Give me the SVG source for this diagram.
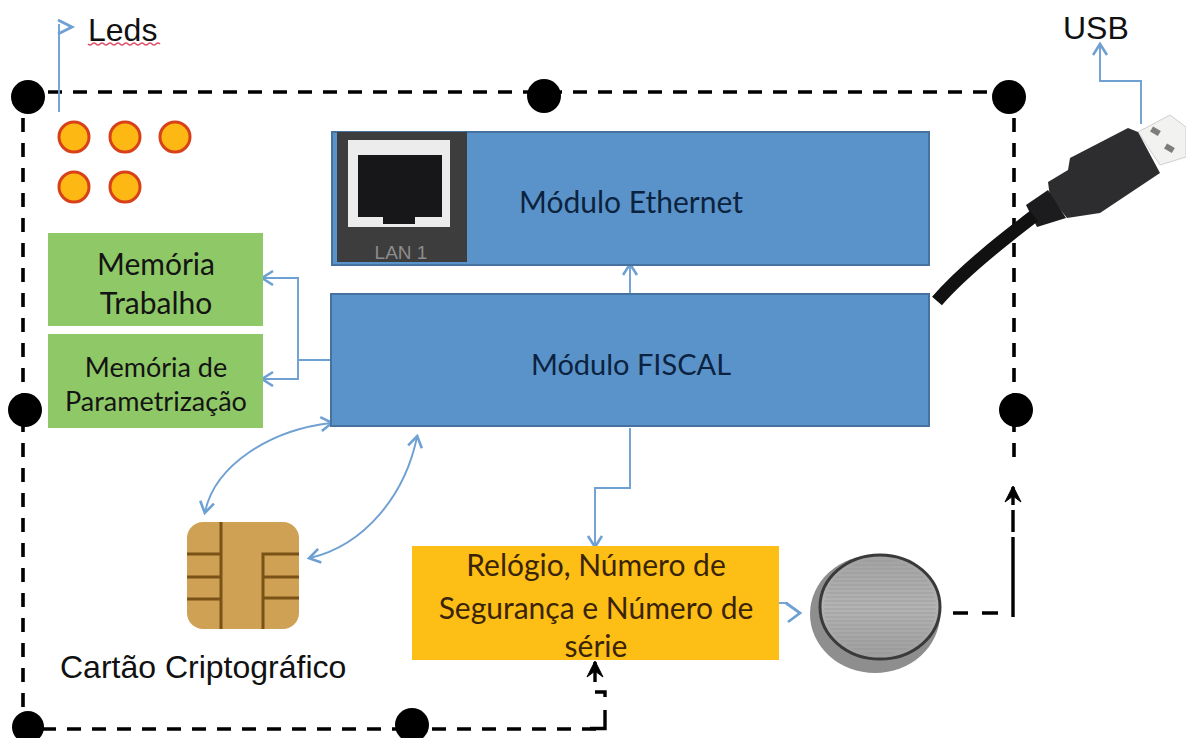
<svg xmlns="http://www.w3.org/2000/svg" width="1186" height="738" viewBox="0 0 1186 738">
<style>
.box{font-family:"Lato","Open Sans",sans-serif;text-anchor:middle;fill:#141414}
.dark{fill:#0c2340}
.brown{fill:#3a2408}
.ar{font-family:"Liberation Sans",Arial,sans-serif;fill:#111}
.dash{fill:none;stroke:#000;stroke-width:3.6;stroke-dasharray:14 11}
.solid{fill:none;stroke:#000;stroke-width:3.4}
.blue{fill:none;stroke:#6fa0d2;stroke-width:1.9}
.chev{fill:none;stroke:#6fa0d2;stroke-width:2.8}
.dot{fill:#000}
.led{fill:#fdb813;stroke:#d8401a;stroke-width:3}
.blueBox{fill:#5a93c9;stroke:#46729f;stroke-width:2}
.green{fill:#8fc866}
.tr{stroke:#7a5216;stroke-width:3;fill:none}
</style>
<defs>
<marker id="open" markerWidth="18" markerHeight="18" refX="13" refY="8" orient="auto-start-reverse" markerUnits="userSpaceOnUse"><path d="M3 1L14 8L3 15" fill="none" stroke="#6fa0d2" stroke-width="2.6"/></marker>
<marker id="black" markerWidth="20" markerHeight="20" refX="16" refY="9" orient="auto" markerUnits="userSpaceOnUse"><path d="M1 1L17 9L1 17L7 9Z" fill="#000" stroke="#000" stroke-width="1"/></marker>
<linearGradient id="bat" x1="0" y1="0" x2="0" y2="1"><stop offset="0" stop-color="#a2a2a2"/><stop offset="0.5" stop-color="#b4b4b4"/><stop offset="1" stop-color="#9e9e9e"/></linearGradient>
<pattern id="ridges" width="6" height="4" patternUnits="userSpaceOnUse"><path d="M0 1H6" stroke="#8c8c8c" stroke-width="1" opacity="0.5"/></pattern>
</defs>
<rect width="1186" height="738" fill="#fff"/>

<g id="connectors">
<path class="dash" d="M48 92H1000"/>
<path class="dash" d="M1014 118V462"/>
<path class="dash" d="M23 118V712"/>
<path class="dash" d="M42 729H400"/>
<path class="dash" d="M432 729H605"/>
<path class="solid" d="M590 728.500H605V710"/>
<path class="solid" d="M595 692H605V697"/>
<path class="solid" d="M595 682V662" marker-end="url(#black)"/>
<path class="solid" d="M953 613H968M982 613H998"/>
<path class="solid" d="M1013 617V537M1013 532V510"/>
<path class="solid" d="M1013 505V487" marker-end="url(#black)"/>
<path class="blue" d="M59 112V24"/>
<path class="chev" d="M58 20L72 27L58 34"/>
<path class="blue" d="M1141 124V81H1100V45" marker-end="url(#open)"/>
<path class="blue" d="M630 294V265" marker-end="url(#open)"/>
<path class="blue" d="M331 360H298V278H263" marker-end="url(#open)"/>
<path class="blue" d="M298 360V379H263" marker-end="url(#open)"/>
<path class="blue" d="M630 428V488H595V546" marker-end="url(#open)"/>
<path class="blue" d="M779 603H788"/>
<path class="chev" d="M786 603L800 613L788 622"/>
<path class="blue" d="M331 423C270 430 215 465 205 512" marker-start="url(#open)" marker-end="url(#open)"/>
<path class="blue" d="M417 437C405 495 365 545 310 558" marker-start="url(#open)" marker-end="url(#open)"/>
</g>

<g id="junctions">
<circle class="dot" cx="28" cy="97" r="17"/>
<circle class="dot" cx="544" cy="96" r="17"/>
<circle class="dot" cx="1009" cy="97" r="17"/>
<circle class="dot" cx="25" cy="410" r="17"/>
<circle class="dot" cx="1016" cy="410" r="17"/>
<circle class="dot" cx="28" cy="727" r="16"/>
<circle class="dot" cx="412" cy="725" r="17"/>
</g>

<g id="leds">
<circle class="led" cx="74" cy="137" r="15"/>
<circle class="led" cx="125" cy="137" r="15"/>
<circle class="led" cx="175" cy="137" r="15"/>
<circle class="led" cx="74" cy="187" r="15"/>
<circle class="led" cx="125" cy="187" r="15"/>
</g>
<g id="leds-label">
<text class="ar" x="88" y="41" font-size="32">Leds</text>
<path d="M88 44q2 2 4 0t4 0t4 0t4 0t4 0t4 0t4 0t4 0t4 0t4 0t4 0t4 0t4 0t4 0t4 0t4 0t4 0t4 0" fill="none" stroke="#e0506a" stroke-width="1.6"/>
</g>

<g id="usb-label"><text class="ar" x="1063" y="39" font-size="32">USB</text></g>

<g id="modulo-ethernet">
<rect class="blueBox" x="332" y="132" width="597" height="133"/>
<rect x="337" y="132" width="130" height="130" fill="#3d3d3d"/>
<rect x="348" y="140" width="102" height="87" fill="#ececec"/>
<rect x="358" y="155" width="84" height="62" fill="#17171a"/>
<rect x="383" y="217" width="32" height="7" fill="#17171a"/>
<text x="401" y="259" font-family="Liberation Sans,sans-serif" font-size="19" fill="#8c8c8c" text-anchor="middle">LAN 1</text>
<text class="box dark" x="631" y="213" font-size="30">Módulo Ethernet</text>
</g>

<g id="modulo-fiscal">
<rect class="blueBox" x="331" y="294" width="598" height="132"/>
<text class="box dark" x="631" y="375" font-size="29">Módulo FISCAL</text>
</g>

<g id="memoria-trabalho">
<rect class="green" x="48" y="233" width="215" height="93"/>
<text class="box" x="156" y="275" font-size="30">Memória</text>
<text class="box" x="156" y="314" font-size="30">Trabalho</text>
</g>

<g id="memoria-parametrizacao">
<rect class="green" x="48" y="334" width="215" height="94"/>
<text class="box" x="156" y="377" font-size="27">Memória de</text>
<text class="box" x="156" y="411" font-size="27">Parametrização</text>
</g>

<g id="cartao">
<rect x="187" y="522" width="112" height="107" rx="16" fill="#cfa155"/>
<path class="tr" d="M221 522V629M263 629V554H299M187 554H221M187 577H221M187 599H221M263 577H299M263 598H299"/>
<text class="ar" x="60" y="678" font-size="32">Cartão Criptográfico</text>
</g>

<g id="relogio">
<rect x="412" y="546" width="367" height="114" fill="#fdbe16"/>
<text class="box brown" x="596" y="576" font-size="30">Relógio, Número de</text>
<text class="box brown" x="596" y="619" font-size="30">Segurança e Número de</text>
<text class="box brown" x="596" y="657" font-size="30">série</text>
</g>

<g id="bateria">
<ellipse cx="875" cy="614" rx="65" ry="59" fill="#8e8e8e"/>
<ellipse cx="880" cy="607" rx="60" ry="52" fill="url(#bat)" stroke="#3a3a3a" stroke-width="3"/>
<ellipse cx="880" cy="607" rx="56" ry="48" fill="url(#ridges)"/>
</g>

<g id="usb-plug">
<path d="M1138 132L1170 115L1186 127V157L1160 165Z" fill="#f2f2f0" stroke="#cfcfcf"/>
<rect x="1151" y="128" width="9" height="6" fill="#7d7d7d" transform="rotate(30 1155 131)"/>
<rect x="1165" y="145" width="9" height="6" fill="#7d7d7d" transform="rotate(30 1169 148)"/>
<path d="M1138 132L1128 128L1070 158L1068 170L1048 182L1050 197L1067 218L1100 213L1160 173Z" fill="#2d2d30"/>
<path d="M1026 205L1048 190L1066 218L1037 227Z" fill="#1c1c1e"/>
<path d="M937 301C962 272 1000 242 1034 216" fill="none" stroke="#111" stroke-width="13"/>
</g>
</svg>
